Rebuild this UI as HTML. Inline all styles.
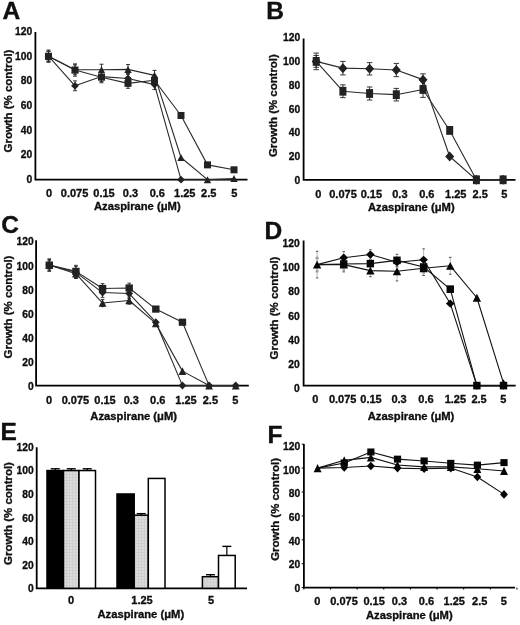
<!DOCTYPE html>
<html><head><meta charset="utf-8"><title>Azaspirane growth figure</title>
<style>
html,body{margin:0;padding:0;background:#fff;width:520px;height:625px;overflow:hidden;}
svg{display:block;will-change:transform;}
text{font-family:"Liberation Sans", sans-serif;}
</style></head><body>
<svg width="520" height="625" viewBox="0 0 520 625" font-family='"Liberation Sans", sans-serif' fill="#111">
<path d="M35.4 32V179.7H247.5" fill="none" stroke="#000" stroke-width="1.8" stroke-linejoin="miter"/>
<text x="32.3" y="182.7" font-size="10.3" text-anchor="end" font-weight="bold" stroke="#000" stroke-width="0.3">0</text>
<text x="32.3" y="158.12" font-size="10.3" text-anchor="end" font-weight="bold" stroke="#000" stroke-width="0.3">20</text>
<text x="32.3" y="133.54" font-size="10.3" text-anchor="end" font-weight="bold" stroke="#000" stroke-width="0.3">40</text>
<text x="32.3" y="108.96" font-size="10.3" text-anchor="end" font-weight="bold" stroke="#000" stroke-width="0.3">60</text>
<text x="32.3" y="84.38" font-size="10.3" text-anchor="end" font-weight="bold" stroke="#000" stroke-width="0.3">80</text>
<text x="32.3" y="59.8" font-size="10.3" text-anchor="end" font-weight="bold" stroke="#000" stroke-width="0.3">100</text>
<text x="32.3" y="35.22" font-size="10.3" text-anchor="end" font-weight="bold" stroke="#000" stroke-width="0.3">120</text>
<text x="49.1" y="197.4" font-size="11" text-anchor="middle" font-weight="bold" stroke="#000" stroke-width="0.3">0</text>
<text x="74.6" y="197.4" font-size="11" text-anchor="middle" font-weight="bold" stroke="#000" stroke-width="0.3">0.075</text>
<text x="104" y="197.4" font-size="11" text-anchor="middle" font-weight="bold" stroke="#000" stroke-width="0.3">0.15</text>
<text x="130.5" y="197.4" font-size="11" text-anchor="middle" font-weight="bold" stroke="#000" stroke-width="0.3">0.3</text>
<text x="157.3" y="197.4" font-size="11" text-anchor="middle" font-weight="bold" stroke="#000" stroke-width="0.3">0.6</text>
<text x="184.75" y="197.4" font-size="11" text-anchor="middle" font-weight="bold" stroke="#000" stroke-width="0.3">1.25</text>
<text x="208.75" y="197.4" font-size="11" text-anchor="middle" font-weight="bold" stroke="#000" stroke-width="0.3">2.5</text>
<text x="234.4" y="197.4" font-size="11" text-anchor="middle" font-weight="bold" stroke="#000" stroke-width="0.3">5</text>
<text x="0" y="0" font-size="10.6" text-anchor="middle" font-weight="bold" stroke="#000" stroke-width="0.3" transform="translate(137.3 210.2) scale(1.06 1)">Azaspirane (μM)</text>
<text x="0" y="0" font-size="10.4" text-anchor="middle" font-weight="bold" stroke="#000" stroke-width="0.3" transform="translate(12 101) rotate(-90) scale(1.1 1)">Growth (% control)</text>
<text x="2.6" y="19" font-size="24.5" text-anchor="start" font-weight="bold" stroke="#000" stroke-width="0.35">A</text>
<line x1="48.5" y1="51.26" x2="48.5" y2="61.14" stroke="#222" stroke-width="0.9"/>
<line x1="46.5" y1="51.26" x2="50.5" y2="51.26" stroke="#222" stroke-width="0.9"/>
<line x1="46.5" y1="61.14" x2="50.5" y2="61.14" stroke="#222" stroke-width="0.9"/>
<line x1="75" y1="80.9" x2="75" y2="90.78" stroke="#222" stroke-width="0.9"/>
<line x1="73" y1="80.9" x2="77" y2="80.9" stroke="#222" stroke-width="0.9"/>
<line x1="73" y1="90.78" x2="77" y2="90.78" stroke="#222" stroke-width="0.9"/>
<line x1="101.5" y1="71.64" x2="101.5" y2="81.52" stroke="#222" stroke-width="0.9"/>
<line x1="99.5" y1="71.64" x2="103.5" y2="71.64" stroke="#222" stroke-width="0.9"/>
<line x1="99.5" y1="81.52" x2="103.5" y2="81.52" stroke="#222" stroke-width="0.9"/>
<line x1="128" y1="73.49" x2="128" y2="83.37" stroke="#222" stroke-width="0.9"/>
<line x1="126" y1="73.49" x2="130" y2="73.49" stroke="#222" stroke-width="0.9"/>
<line x1="126" y1="83.37" x2="130" y2="83.37" stroke="#222" stroke-width="0.9"/>
<line x1="154.5" y1="79.66" x2="154.5" y2="89.54" stroke="#222" stroke-width="0.9"/>
<line x1="152.5" y1="79.66" x2="156.5" y2="79.66" stroke="#222" stroke-width="0.9"/>
<line x1="152.5" y1="89.54" x2="156.5" y2="89.54" stroke="#222" stroke-width="0.9"/>
<line x1="48.5" y1="51.26" x2="48.5" y2="61.14" stroke="#222" stroke-width="0.9"/>
<line x1="46.5" y1="51.26" x2="50.5" y2="51.26" stroke="#222" stroke-width="0.9"/>
<line x1="46.5" y1="61.14" x2="50.5" y2="61.14" stroke="#222" stroke-width="0.9"/>
<line x1="75" y1="64.84" x2="75" y2="74.72" stroke="#222" stroke-width="0.9"/>
<line x1="73" y1="64.84" x2="77" y2="64.84" stroke="#222" stroke-width="0.9"/>
<line x1="73" y1="74.72" x2="77" y2="74.72" stroke="#222" stroke-width="0.9"/>
<line x1="101.5" y1="64.23" x2="101.5" y2="75.34" stroke="#222" stroke-width="0.9"/>
<line x1="99.5" y1="64.23" x2="103.5" y2="64.23" stroke="#222" stroke-width="0.9"/>
<line x1="99.5" y1="75.34" x2="103.5" y2="75.34" stroke="#222" stroke-width="0.9"/>
<line x1="128" y1="64.47" x2="128" y2="74.35" stroke="#222" stroke-width="0.9"/>
<line x1="126" y1="64.47" x2="130" y2="64.47" stroke="#222" stroke-width="0.9"/>
<line x1="126" y1="74.35" x2="130" y2="74.35" stroke="#222" stroke-width="0.9"/>
<line x1="154.5" y1="70.4" x2="154.5" y2="80.28" stroke="#222" stroke-width="0.9"/>
<line x1="152.5" y1="70.4" x2="156.5" y2="70.4" stroke="#222" stroke-width="0.9"/>
<line x1="152.5" y1="80.28" x2="156.5" y2="80.28" stroke="#222" stroke-width="0.9"/>
<line x1="48.5" y1="50.02" x2="48.5" y2="62.37" stroke="#222" stroke-width="0.9"/>
<line x1="46.5" y1="50.02" x2="50.5" y2="50.02" stroke="#222" stroke-width="0.9"/>
<line x1="46.5" y1="62.37" x2="50.5" y2="62.37" stroke="#222" stroke-width="0.9"/>
<line x1="75" y1="63.86" x2="75" y2="76.21" stroke="#222" stroke-width="0.9"/>
<line x1="73" y1="63.86" x2="77" y2="63.86" stroke="#222" stroke-width="0.9"/>
<line x1="73" y1="76.21" x2="77" y2="76.21" stroke="#222" stroke-width="0.9"/>
<line x1="101.5" y1="71.64" x2="101.5" y2="82.75" stroke="#222" stroke-width="0.9"/>
<line x1="99.5" y1="71.64" x2="103.5" y2="71.64" stroke="#222" stroke-width="0.9"/>
<line x1="99.5" y1="82.75" x2="103.5" y2="82.75" stroke="#222" stroke-width="0.9"/>
<line x1="128" y1="78.43" x2="128" y2="88.31" stroke="#222" stroke-width="0.9"/>
<line x1="126" y1="78.43" x2="130" y2="78.43" stroke="#222" stroke-width="0.9"/>
<line x1="126" y1="88.31" x2="130" y2="88.31" stroke="#222" stroke-width="0.9"/>
<line x1="154.5" y1="75.34" x2="154.5" y2="85.22" stroke="#222" stroke-width="0.9"/>
<line x1="152.5" y1="75.34" x2="156.5" y2="75.34" stroke="#222" stroke-width="0.9"/>
<line x1="152.5" y1="85.22" x2="156.5" y2="85.22" stroke="#222" stroke-width="0.9"/>
<polyline points="48.5,56.2 75,85.84 101.5,76.58 128,78.43 154.5,84.6 181,179.7 207.5,179.7 234,179.7" fill="none" stroke="#2a2a2a" stroke-width="1.1" stroke-linejoin="round"/>
<polyline points="48.5,56.2 75,69.78 101.5,69.78 128,69.41 154.5,75.34 181,157.47 207.5,179.7 234,178.46" fill="none" stroke="#2a2a2a" stroke-width="1.1" stroke-linejoin="round"/>
<polyline points="48.5,56.2 75,70.03 101.5,77.19 128,83.37 154.5,80.28 181,115.48 207.5,164.88 234,169.82" fill="none" stroke="#2a2a2a" stroke-width="1.1" stroke-linejoin="round"/>
<polygon points="48.5,52.3 52.4,56.2 48.5,60.1 44.6,56.2" fill="#222"/>
<polygon points="75,81.94 78.9,85.84 75,89.74 71.1,85.84" fill="#222"/>
<polygon points="101.5,72.68 105.4,76.58 101.5,80.48 97.6,76.58" fill="#222"/>
<polygon points="128,74.53 131.9,78.43 128,82.33 124.1,78.43" fill="#222"/>
<polygon points="154.5,80.7 158.4,84.6 154.5,88.5 150.6,84.6" fill="#222"/>
<polygon points="181,175.8 184.9,179.7 181,183.6 177.1,179.7" fill="#222"/>
<polygon points="48.5,52.7 52.2,59.7 44.8,59.7" fill="#222"/>
<polygon points="75,66.28 78.7,73.28 71.3,73.28" fill="#222"/>
<polygon points="101.5,66.28 105.2,73.28 97.8,73.28" fill="#222"/>
<polygon points="128,65.91 131.7,72.91 124.3,72.91" fill="#222"/>
<polygon points="154.5,71.84 158.2,78.84 150.8,78.84" fill="#222"/>
<polygon points="181,153.97 184.7,160.97 177.3,160.97" fill="#222"/>
<polygon points="207.5,176.2 211.2,183.2 203.8,183.2" fill="#222"/>
<polygon points="234,174.96 237.7,181.96 230.3,181.96" fill="#222"/>
<rect x="45" y="52.7" width="7" height="7" fill="#222"/>
<rect x="71.5" y="66.53" width="7" height="7" fill="#222"/>
<rect x="98" y="73.69" width="7" height="7" fill="#222"/>
<rect x="124.5" y="79.87" width="7" height="7" fill="#222"/>
<rect x="151" y="76.78" width="7" height="7" fill="#222"/>
<rect x="177.5" y="111.98" width="7" height="7" fill="#222"/>
<rect x="204" y="161.38" width="7" height="7" fill="#222"/>
<rect x="230.5" y="166.32" width="7" height="7" fill="#222"/>
<path d="M303.6 38.4V179.8H515.5" fill="none" stroke="#000" stroke-width="1.8" stroke-linejoin="miter"/>
<text x="300.2" y="184" font-size="10.3" text-anchor="end" font-weight="bold" stroke="#000" stroke-width="0.3">0</text>
<text x="300.2" y="160.24" font-size="10.3" text-anchor="end" font-weight="bold" stroke="#000" stroke-width="0.3">20</text>
<text x="300.2" y="136.48" font-size="10.3" text-anchor="end" font-weight="bold" stroke="#000" stroke-width="0.3">40</text>
<text x="300.2" y="112.72" font-size="10.3" text-anchor="end" font-weight="bold" stroke="#000" stroke-width="0.3">60</text>
<text x="300.2" y="88.96" font-size="10.3" text-anchor="end" font-weight="bold" stroke="#000" stroke-width="0.3">80</text>
<text x="300.2" y="65.2" font-size="10.3" text-anchor="end" font-weight="bold" stroke="#000" stroke-width="0.3">100</text>
<text x="300.2" y="41.44" font-size="10.3" text-anchor="end" font-weight="bold" stroke="#000" stroke-width="0.3">120</text>
<text x="318.2" y="197.9" font-size="11" text-anchor="middle" font-weight="bold" stroke="#000" stroke-width="0.3">0</text>
<text x="343" y="197.9" font-size="11" text-anchor="middle" font-weight="bold" stroke="#000" stroke-width="0.3">0.075</text>
<text x="371.4" y="197.9" font-size="11" text-anchor="middle" font-weight="bold" stroke="#000" stroke-width="0.3">0.15</text>
<text x="399.9" y="197.9" font-size="11" text-anchor="middle" font-weight="bold" stroke="#000" stroke-width="0.3">0.3</text>
<text x="426.8" y="197.9" font-size="11" text-anchor="middle" font-weight="bold" stroke="#000" stroke-width="0.3">0.6</text>
<text x="455.8" y="197.9" font-size="11" text-anchor="middle" font-weight="bold" stroke="#000" stroke-width="0.3">1.25</text>
<text x="480.2" y="197.9" font-size="11" text-anchor="middle" font-weight="bold" stroke="#000" stroke-width="0.3">2.5</text>
<text x="504.3" y="197.9" font-size="11" text-anchor="middle" font-weight="bold" stroke="#000" stroke-width="0.3">5</text>
<text x="0" y="0" font-size="10.6" text-anchor="middle" font-weight="bold" stroke="#000" stroke-width="0.3" transform="translate(411.3 210.6) scale(1.06 1)">Azaspirane (μM)</text>
<text x="0" y="0" font-size="10.4" text-anchor="middle" font-weight="bold" stroke="#000" stroke-width="0.3" transform="translate(276.6 105.6) rotate(-90) scale(1.1 1)">Growth (% control)</text>
<text x="266.2" y="19.2" font-size="24.5" text-anchor="start" font-weight="bold" stroke="#000" stroke-width="0.35">B</text>
<line x1="316.2" y1="55.48" x2="316.2" y2="67.32" stroke="#222" stroke-width="0.9"/>
<line x1="313.45" y1="55.48" x2="318.95" y2="55.48" stroke="#222" stroke-width="0.9"/>
<line x1="313.45" y1="67.32" x2="318.95" y2="67.32" stroke="#222" stroke-width="0.9"/>
<line x1="342.9" y1="61.4" x2="342.9" y2="74.9" stroke="#222" stroke-width="0.9"/>
<line x1="340.15" y1="61.4" x2="345.65" y2="61.4" stroke="#222" stroke-width="0.9"/>
<line x1="340.15" y1="74.9" x2="345.65" y2="74.9" stroke="#222" stroke-width="0.9"/>
<line x1="369.6" y1="62.64" x2="369.6" y2="74.96" stroke="#222" stroke-width="0.9"/>
<line x1="366.85" y1="62.64" x2="372.35" y2="62.64" stroke="#222" stroke-width="0.9"/>
<line x1="366.85" y1="74.96" x2="372.35" y2="74.96" stroke="#222" stroke-width="0.9"/>
<line x1="396.3" y1="63.41" x2="396.3" y2="76.67" stroke="#222" stroke-width="0.9"/>
<line x1="393.55" y1="63.41" x2="399.05" y2="63.41" stroke="#222" stroke-width="0.9"/>
<line x1="393.55" y1="76.67" x2="399.05" y2="76.67" stroke="#222" stroke-width="0.9"/>
<line x1="423" y1="73.83" x2="423" y2="85.44" stroke="#222" stroke-width="0.9"/>
<line x1="420.25" y1="73.83" x2="425.75" y2="73.83" stroke="#222" stroke-width="0.9"/>
<line x1="420.25" y1="85.44" x2="425.75" y2="85.44" stroke="#222" stroke-width="0.9"/>
<line x1="316.2" y1="53.11" x2="316.2" y2="69.69" stroke="#222" stroke-width="0.9"/>
<line x1="313.45" y1="53.11" x2="318.95" y2="53.11" stroke="#222" stroke-width="0.9"/>
<line x1="313.45" y1="69.69" x2="318.95" y2="69.69" stroke="#222" stroke-width="0.9"/>
<line x1="342.9" y1="84.84" x2="342.9" y2="97.63" stroke="#222" stroke-width="0.9"/>
<line x1="340.15" y1="84.84" x2="345.65" y2="84.84" stroke="#222" stroke-width="0.9"/>
<line x1="340.15" y1="97.63" x2="345.65" y2="97.63" stroke="#222" stroke-width="0.9"/>
<line x1="369.6" y1="86.97" x2="369.6" y2="100" stroke="#222" stroke-width="0.9"/>
<line x1="366.85" y1="86.97" x2="372.35" y2="86.97" stroke="#222" stroke-width="0.9"/>
<line x1="366.85" y1="100" x2="372.35" y2="100" stroke="#222" stroke-width="0.9"/>
<line x1="396.3" y1="88.4" x2="396.3" y2="100.95" stroke="#222" stroke-width="0.9"/>
<line x1="393.55" y1="88.4" x2="399.05" y2="88.4" stroke="#222" stroke-width="0.9"/>
<line x1="393.55" y1="100.95" x2="399.05" y2="100.95" stroke="#222" stroke-width="0.9"/>
<line x1="423" y1="81.53" x2="423" y2="97.39" stroke="#222" stroke-width="0.9"/>
<line x1="420.25" y1="81.53" x2="425.75" y2="81.53" stroke="#222" stroke-width="0.9"/>
<line x1="420.25" y1="97.39" x2="425.75" y2="97.39" stroke="#222" stroke-width="0.9"/>
<polyline points="316.2,61.4 342.9,68.15 369.6,68.8 396.3,70.04 423,79.63 449.7,156.48 476.4,179.8 503.1,179.8" fill="none" stroke="#2a2a2a" stroke-width="1.1" stroke-linejoin="round"/>
<polyline points="316.2,61.4 342.9,91.24 369.6,93.49 396.3,94.67 423,89.46 449.7,130.43 476.4,179.8 503.1,179.8" fill="none" stroke="#2a2a2a" stroke-width="1.1" stroke-linejoin="round"/>
<polygon points="316.2,56.4 320.7,61.4 316.2,66.4 311.7,61.4" fill="#222"/>
<polygon points="342.9,63.15 347.4,68.15 342.9,73.15 338.4,68.15" fill="#222"/>
<polygon points="369.6,63.8 374.1,68.8 369.6,73.8 365.1,68.8" fill="#222"/>
<polygon points="396.3,65.04 400.8,70.04 396.3,75.04 391.8,70.04" fill="#222"/>
<polygon points="423,74.63 427.5,79.63 423,84.63 418.5,79.63" fill="#222"/>
<polygon points="449.7,151.48 454.2,156.48 449.7,161.48 445.2,156.48" fill="#222"/>
<polygon points="476.4,174.8 480.9,179.8 476.4,184.8 471.9,179.8" fill="#222"/>
<polygon points="503.1,174.8 507.6,179.8 503.1,184.8 498.6,179.8" fill="#222"/>
<rect x="312.7" y="57" width="7" height="8.8" fill="#222"/>
<rect x="339.4" y="86.84" width="7" height="8.8" fill="#222"/>
<rect x="366.1" y="89.09" width="7" height="8.8" fill="#222"/>
<rect x="392.8" y="90.27" width="7" height="8.8" fill="#222"/>
<rect x="419.5" y="85.06" width="7" height="8.8" fill="#222"/>
<rect x="446.2" y="126.03" width="7" height="8.8" fill="#222"/>
<rect x="472.9" y="175.4" width="7" height="8.8" fill="#222"/>
<rect x="499.6" y="175.4" width="7" height="8.8" fill="#222"/>
<path d="M36.1 240.3V385.6H248.8" fill="none" stroke="#000" stroke-width="1.8" stroke-linejoin="miter"/>
<text x="33.7" y="390" font-size="10.3" text-anchor="end" font-weight="bold" stroke="#000" stroke-width="0.3">0</text>
<text x="33.7" y="365.91" font-size="10.3" text-anchor="end" font-weight="bold" stroke="#000" stroke-width="0.3">20</text>
<text x="33.7" y="341.82" font-size="10.3" text-anchor="end" font-weight="bold" stroke="#000" stroke-width="0.3">40</text>
<text x="33.7" y="317.72" font-size="10.3" text-anchor="end" font-weight="bold" stroke="#000" stroke-width="0.3">60</text>
<text x="33.7" y="293.63" font-size="10.3" text-anchor="end" font-weight="bold" stroke="#000" stroke-width="0.3">80</text>
<text x="33.7" y="269.54" font-size="10.3" text-anchor="end" font-weight="bold" stroke="#000" stroke-width="0.3">100</text>
<text x="33.7" y="245.45" font-size="10.3" text-anchor="end" font-weight="bold" stroke="#000" stroke-width="0.3">120</text>
<text x="49.1" y="403.6" font-size="11" text-anchor="middle" font-weight="bold" stroke="#000" stroke-width="0.3">0</text>
<text x="75.4" y="403.6" font-size="11" text-anchor="middle" font-weight="bold" stroke="#000" stroke-width="0.3">0.075</text>
<text x="105" y="403.6" font-size="11" text-anchor="middle" font-weight="bold" stroke="#000" stroke-width="0.3">0.15</text>
<text x="131.3" y="403.6" font-size="11" text-anchor="middle" font-weight="bold" stroke="#000" stroke-width="0.3">0.3</text>
<text x="157.7" y="403.6" font-size="11" text-anchor="middle" font-weight="bold" stroke="#000" stroke-width="0.3">0.6</text>
<text x="186" y="403.6" font-size="11" text-anchor="middle" font-weight="bold" stroke="#000" stroke-width="0.3">1.25</text>
<text x="210.4" y="403.6" font-size="11" text-anchor="middle" font-weight="bold" stroke="#000" stroke-width="0.3">2.5</text>
<text x="235.25" y="403.6" font-size="11" text-anchor="middle" font-weight="bold" stroke="#000" stroke-width="0.3">5</text>
<text x="0" y="0" font-size="10.6" text-anchor="middle" font-weight="bold" stroke="#000" stroke-width="0.3" transform="translate(133.7 420) scale(1.06 1)">Azaspirane (μM)</text>
<text x="0" y="0" font-size="10.4" text-anchor="middle" font-weight="bold" stroke="#000" stroke-width="0.3" transform="translate(11.7 307) rotate(-90) scale(1.1 1)">Growth (% control)</text>
<text x="1.2" y="232.9" font-size="24.5" text-anchor="start" font-weight="bold" stroke="#000" stroke-width="0.35">C</text>
<line x1="49.3" y1="259.08" x2="49.3" y2="271.12" stroke="#222" stroke-width="0.9"/>
<line x1="47.5" y1="259.08" x2="51.1" y2="259.08" stroke="#222" stroke-width="0.9"/>
<line x1="47.5" y1="271.12" x2="51.1" y2="271.12" stroke="#222" stroke-width="0.9"/>
<line x1="75.93" y1="266.31" x2="75.93" y2="278.36" stroke="#222" stroke-width="0.9"/>
<line x1="74.13" y1="266.31" x2="77.73" y2="266.31" stroke="#222" stroke-width="0.9"/>
<line x1="74.13" y1="278.36" x2="77.73" y2="278.36" stroke="#222" stroke-width="0.9"/>
<line x1="102.56" y1="287.75" x2="102.56" y2="297.39" stroke="#222" stroke-width="0.9"/>
<line x1="100.76" y1="287.75" x2="104.36" y2="287.75" stroke="#222" stroke-width="0.9"/>
<line x1="100.76" y1="297.39" x2="104.36" y2="297.39" stroke="#222" stroke-width="0.9"/>
<line x1="129.19" y1="288.72" x2="129.19" y2="298.36" stroke="#222" stroke-width="0.9"/>
<line x1="127.39" y1="288.72" x2="130.99" y2="288.72" stroke="#222" stroke-width="0.9"/>
<line x1="127.39" y1="298.36" x2="130.99" y2="298.36" stroke="#222" stroke-width="0.9"/>
<line x1="49.3" y1="259.08" x2="49.3" y2="271.12" stroke="#222" stroke-width="0.9"/>
<line x1="47.5" y1="259.08" x2="51.1" y2="259.08" stroke="#222" stroke-width="0.9"/>
<line x1="47.5" y1="271.12" x2="51.1" y2="271.12" stroke="#222" stroke-width="0.9"/>
<line x1="75.93" y1="265.34" x2="75.93" y2="277.39" stroke="#222" stroke-width="0.9"/>
<line x1="74.13" y1="265.34" x2="77.73" y2="265.34" stroke="#222" stroke-width="0.9"/>
<line x1="74.13" y1="277.39" x2="77.73" y2="277.39" stroke="#222" stroke-width="0.9"/>
<line x1="102.56" y1="283.66" x2="102.56" y2="293.3" stroke="#222" stroke-width="0.9"/>
<line x1="100.76" y1="283.66" x2="104.36" y2="283.66" stroke="#222" stroke-width="0.9"/>
<line x1="100.76" y1="293.3" x2="104.36" y2="293.3" stroke="#222" stroke-width="0.9"/>
<line x1="129.19" y1="283.18" x2="129.19" y2="292.81" stroke="#222" stroke-width="0.9"/>
<line x1="127.39" y1="283.18" x2="130.99" y2="283.18" stroke="#222" stroke-width="0.9"/>
<line x1="127.39" y1="292.81" x2="130.99" y2="292.81" stroke="#222" stroke-width="0.9"/>
<line x1="49.3" y1="260.28" x2="49.3" y2="269.92" stroke="#222" stroke-width="0.9"/>
<line x1="47.5" y1="260.28" x2="51.1" y2="260.28" stroke="#222" stroke-width="0.9"/>
<line x1="47.5" y1="269.92" x2="51.1" y2="269.92" stroke="#222" stroke-width="0.9"/>
<line x1="75.93" y1="268.84" x2="75.93" y2="278.48" stroke="#222" stroke-width="0.9"/>
<line x1="74.13" y1="268.84" x2="77.73" y2="268.84" stroke="#222" stroke-width="0.9"/>
<line x1="74.13" y1="278.48" x2="77.73" y2="278.48" stroke="#222" stroke-width="0.9"/>
<line x1="102.56" y1="299.44" x2="102.56" y2="306.67" stroke="#222" stroke-width="0.9"/>
<line x1="100.76" y1="299.44" x2="104.36" y2="299.44" stroke="#222" stroke-width="0.9"/>
<line x1="100.76" y1="306.67" x2="104.36" y2="306.67" stroke="#222" stroke-width="0.9"/>
<line x1="129.19" y1="296.91" x2="129.19" y2="304.14" stroke="#222" stroke-width="0.9"/>
<line x1="127.39" y1="296.91" x2="130.99" y2="296.91" stroke="#222" stroke-width="0.9"/>
<line x1="127.39" y1="304.14" x2="130.99" y2="304.14" stroke="#222" stroke-width="0.9"/>
<polyline points="49.3,265.1 75.93,272.33 102.56,292.57 129.19,293.54 155.82,322.22 182.45,385.6 209.08,385.6 235.71,385.6" fill="none" stroke="#2a2a2a" stroke-width="1.1" stroke-linejoin="round"/>
<polyline points="49.3,265.1 75.93,271.37 102.56,288.48 129.19,288 155.82,309.08 182.45,322.22 209.08,385.6 235.71,385.6" fill="none" stroke="#2a2a2a" stroke-width="1.1" stroke-linejoin="round"/>
<polyline points="49.3,265.1 75.93,273.66 102.56,303.06 129.19,300.53 155.82,323.42 182.45,371.14 209.08,385.6 235.71,385.6" fill="none" stroke="#2a2a2a" stroke-width="1.1" stroke-linejoin="round"/>
<polygon points="49.3,261.1 53.2,265.1 49.3,269.1 45.4,265.1" fill="#222"/>
<polygon points="75.93,268.33 79.83,272.33 75.93,276.33 72.03,272.33" fill="#222"/>
<polygon points="102.56,288.57 106.46,292.57 102.56,296.57 98.66,292.57" fill="#222"/>
<polygon points="129.19,289.54 133.09,293.54 129.19,297.54 125.29,293.54" fill="#222"/>
<polygon points="155.82,318.22 159.72,322.22 155.82,326.22 151.92,322.22" fill="#222"/>
<polygon points="182.45,381.6 186.35,385.6 182.45,389.6 178.55,385.6" fill="#222"/>
<polygon points="209.08,381.6 212.98,385.6 209.08,389.6 205.18,385.6" fill="#222"/>
<polygon points="235.71,381.6 239.61,385.6 235.71,389.6 231.81,385.6" fill="#222"/>
<rect x="45.6" y="261.5" width="7.4" height="7.2" fill="#222"/>
<rect x="72.23" y="267.77" width="7.4" height="7.2" fill="#222"/>
<rect x="98.86" y="284.88" width="7.4" height="7.2" fill="#222"/>
<rect x="125.49" y="284.39" width="7.4" height="7.2" fill="#222"/>
<rect x="152.12" y="305.48" width="7.4" height="7.2" fill="#222"/>
<rect x="178.75" y="318.62" width="7.4" height="7.2" fill="#222"/>
<polygon points="49.3,261.3 53.2,268.9 45.4,268.9" fill="#222"/>
<polygon points="75.93,269.86 79.83,277.46 72.03,277.46" fill="#222"/>
<polygon points="102.56,299.26 106.46,306.86 98.66,306.86" fill="#222"/>
<polygon points="129.19,296.73 133.09,304.33 125.29,304.33" fill="#222"/>
<polygon points="155.82,319.62 159.72,327.22 151.92,327.22" fill="#222"/>
<polygon points="182.45,367.34 186.35,374.94 178.55,374.94" fill="#222"/>
<polygon points="209.08,381.8 212.98,389.4 205.18,389.4" fill="#222"/>
<polygon points="235.71,381.8 239.61,389.4 231.81,389.4" fill="#222"/>
<path d="M303.6 240.4V385.6H515.7" fill="none" stroke="#000" stroke-width="1.8" stroke-linejoin="miter"/>
<text x="299.7" y="392.1" font-size="10.3" text-anchor="end" font-weight="bold" stroke="#000" stroke-width="0.3">0</text>
<text x="299.7" y="367.94" font-size="10.3" text-anchor="end" font-weight="bold" stroke="#000" stroke-width="0.3">20</text>
<text x="299.7" y="343.78" font-size="10.3" text-anchor="end" font-weight="bold" stroke="#000" stroke-width="0.3">40</text>
<text x="299.7" y="319.62" font-size="10.3" text-anchor="end" font-weight="bold" stroke="#000" stroke-width="0.3">60</text>
<text x="299.7" y="295.46" font-size="10.3" text-anchor="end" font-weight="bold" stroke="#000" stroke-width="0.3">80</text>
<text x="299.7" y="271.3" font-size="10.3" text-anchor="end" font-weight="bold" stroke="#000" stroke-width="0.3">100</text>
<text x="299.7" y="247.14" font-size="10.3" text-anchor="end" font-weight="bold" stroke="#000" stroke-width="0.3">120</text>
<text x="315.25" y="402.6" font-size="11" text-anchor="middle" font-weight="bold" stroke="#000" stroke-width="0.3">0</text>
<text x="342.7" y="402.6" font-size="11" text-anchor="middle" font-weight="bold" stroke="#000" stroke-width="0.3">0.075</text>
<text x="371" y="402.6" font-size="11" text-anchor="middle" font-weight="bold" stroke="#000" stroke-width="0.3">0.15</text>
<text x="399.1" y="402.6" font-size="11" text-anchor="middle" font-weight="bold" stroke="#000" stroke-width="0.3">0.3</text>
<text x="426" y="402.6" font-size="11" text-anchor="middle" font-weight="bold" stroke="#000" stroke-width="0.3">0.6</text>
<text x="455.4" y="402.6" font-size="11" text-anchor="middle" font-weight="bold" stroke="#000" stroke-width="0.3">1.25</text>
<text x="479.1" y="402.6" font-size="11" text-anchor="middle" font-weight="bold" stroke="#000" stroke-width="0.3">2.5</text>
<text x="503.4" y="402.6" font-size="11" text-anchor="middle" font-weight="bold" stroke="#000" stroke-width="0.3">5</text>
<text x="0" y="0" font-size="10.6" text-anchor="middle" font-weight="bold" stroke="#000" stroke-width="0.3" transform="translate(411 420.3) scale(1.06 1)">Azaspirane (μM)</text>
<text x="0" y="0" font-size="10.4" text-anchor="middle" font-weight="bold" stroke="#000" stroke-width="0.3" transform="translate(277.8 308) rotate(-90) scale(1.1 1)">Growth (% control)</text>
<text x="264.6" y="239.4" font-size="24.5" text-anchor="start" font-weight="bold" stroke="#000" stroke-width="0.35">D</text>
<line x1="317.1" y1="258.55" x2="317.1" y2="270.65" stroke="#b8b8b8" stroke-width="1"/>
<line x1="315.8" y1="258.55" x2="318.4" y2="258.55" stroke="#555" stroke-width="1"/>
<line x1="315.8" y1="270.65" x2="318.4" y2="270.65" stroke="#555" stroke-width="1"/>
<line x1="343.73" y1="251.65" x2="343.73" y2="263.75" stroke="#b8b8b8" stroke-width="1"/>
<line x1="342.43" y1="251.65" x2="345.03" y2="251.65" stroke="#555" stroke-width="1"/>
<line x1="342.43" y1="263.75" x2="345.03" y2="263.75" stroke="#555" stroke-width="1"/>
<line x1="370.36" y1="249.72" x2="370.36" y2="259.4" stroke="#b8b8b8" stroke-width="1"/>
<line x1="369.06" y1="249.72" x2="371.66" y2="249.72" stroke="#555" stroke-width="1"/>
<line x1="369.06" y1="259.4" x2="371.66" y2="259.4" stroke="#555" stroke-width="1"/>
<line x1="396.99" y1="257.34" x2="396.99" y2="267.02" stroke="#b8b8b8" stroke-width="1"/>
<line x1="395.69" y1="257.34" x2="398.29" y2="257.34" stroke="#555" stroke-width="1"/>
<line x1="395.69" y1="267.02" x2="398.29" y2="267.02" stroke="#555" stroke-width="1"/>
<line x1="423.62" y1="248.87" x2="423.62" y2="270.65" stroke="#b8b8b8" stroke-width="1"/>
<line x1="422.32" y1="248.87" x2="424.92" y2="248.87" stroke="#555" stroke-width="1"/>
<line x1="422.32" y1="270.65" x2="424.92" y2="270.65" stroke="#555" stroke-width="1"/>
<line x1="317.1" y1="257.34" x2="317.1" y2="271.86" stroke="#b8b8b8" stroke-width="1"/>
<line x1="315.8" y1="257.34" x2="318.4" y2="257.34" stroke="#555" stroke-width="1"/>
<line x1="315.8" y1="271.86" x2="318.4" y2="271.86" stroke="#555" stroke-width="1"/>
<line x1="343.73" y1="257.95" x2="343.73" y2="270.05" stroke="#b8b8b8" stroke-width="1"/>
<line x1="342.43" y1="257.95" x2="345.03" y2="257.95" stroke="#555" stroke-width="1"/>
<line x1="342.43" y1="270.05" x2="345.03" y2="270.05" stroke="#555" stroke-width="1"/>
<line x1="370.36" y1="257.58" x2="370.36" y2="269.68" stroke="#b8b8b8" stroke-width="1"/>
<line x1="369.06" y1="257.58" x2="371.66" y2="257.58" stroke="#555" stroke-width="1"/>
<line x1="369.06" y1="269.68" x2="371.66" y2="269.68" stroke="#555" stroke-width="1"/>
<line x1="396.99" y1="254.32" x2="396.99" y2="266.42" stroke="#b8b8b8" stroke-width="1"/>
<line x1="395.69" y1="254.32" x2="398.29" y2="254.32" stroke="#555" stroke-width="1"/>
<line x1="395.69" y1="266.42" x2="398.29" y2="266.42" stroke="#555" stroke-width="1"/>
<line x1="423.62" y1="260.97" x2="423.62" y2="273.07" stroke="#b8b8b8" stroke-width="1"/>
<line x1="422.32" y1="260.97" x2="424.92" y2="260.97" stroke="#555" stroke-width="1"/>
<line x1="422.32" y1="273.07" x2="424.92" y2="273.07" stroke="#555" stroke-width="1"/>
<line x1="317.1" y1="251.29" x2="317.1" y2="277.91" stroke="#b8b8b8" stroke-width="1"/>
<line x1="315.8" y1="251.29" x2="318.4" y2="251.29" stroke="#555" stroke-width="1"/>
<line x1="315.8" y1="277.91" x2="318.4" y2="277.91" stroke="#555" stroke-width="1"/>
<line x1="343.73" y1="257.34" x2="343.73" y2="271.86" stroke="#b8b8b8" stroke-width="1"/>
<line x1="342.43" y1="257.34" x2="345.03" y2="257.34" stroke="#555" stroke-width="1"/>
<line x1="342.43" y1="271.86" x2="345.03" y2="271.86" stroke="#555" stroke-width="1"/>
<line x1="370.36" y1="264.6" x2="370.36" y2="276.7" stroke="#b8b8b8" stroke-width="1"/>
<line x1="369.06" y1="264.6" x2="371.66" y2="264.6" stroke="#555" stroke-width="1"/>
<line x1="369.06" y1="276.7" x2="371.66" y2="276.7" stroke="#555" stroke-width="1"/>
<line x1="396.99" y1="261.58" x2="396.99" y2="280.94" stroke="#b8b8b8" stroke-width="1"/>
<line x1="395.69" y1="261.58" x2="398.29" y2="261.58" stroke="#555" stroke-width="1"/>
<line x1="395.69" y1="280.94" x2="398.29" y2="280.94" stroke="#555" stroke-width="1"/>
<line x1="423.62" y1="260.97" x2="423.62" y2="275.49" stroke="#b8b8b8" stroke-width="1"/>
<line x1="422.32" y1="260.97" x2="424.92" y2="260.97" stroke="#555" stroke-width="1"/>
<line x1="422.32" y1="275.49" x2="424.92" y2="275.49" stroke="#555" stroke-width="1"/>
<line x1="450.25" y1="257.34" x2="450.25" y2="274.28" stroke="#b8b8b8" stroke-width="1"/>
<line x1="448.95" y1="257.34" x2="451.55" y2="257.34" stroke="#555" stroke-width="1"/>
<line x1="448.95" y1="274.28" x2="451.55" y2="274.28" stroke="#555" stroke-width="1"/>
<polyline points="317.1,264.6 343.73,257.7 370.36,254.56 396.99,262.18 423.62,259.76 450.25,303.56 476.88,385.6 503.51,385.6" fill="none" stroke="#111" stroke-width="1.1" stroke-linejoin="round"/>
<polyline points="317.1,264.6 343.73,264 370.36,263.63 396.99,260.37 423.62,267.02 450.25,289.16 476.88,385.6 503.51,385.6" fill="none" stroke="#111" stroke-width="1.1" stroke-linejoin="round"/>
<polyline points="317.1,264.6 343.73,264.6 370.36,270.65 396.99,271.25 423.62,268.23 450.25,265.81 476.88,297.75 503.51,383.18" fill="none" stroke="#111" stroke-width="1.1" stroke-linejoin="round"/>
<polygon points="343.73,253.6 348.03,257.7 343.73,261.8 339.43,257.7" fill="#060606"/>
<polygon points="370.36,250.46 374.66,254.56 370.36,258.66 366.06,254.56" fill="#060606"/>
<polygon points="396.99,258.08 401.29,262.18 396.99,266.28 392.69,262.18" fill="#060606"/>
<polygon points="423.62,255.66 427.92,259.76 423.62,263.86 419.32,259.76" fill="#060606"/>
<polygon points="450.25,299.46 454.55,303.56 450.25,307.66 445.95,303.56" fill="#060606"/>
<polygon points="476.88,381.5 481.18,385.6 476.88,389.7 472.58,385.6" fill="#060606"/>
<polygon points="503.51,381.5 507.81,385.6 503.51,389.7 499.21,385.6" fill="#060606"/>
<rect x="340.03" y="260.19" width="7.4" height="7.6" fill="#060606"/>
<rect x="366.66" y="259.83" width="7.4" height="7.6" fill="#060606"/>
<rect x="393.29" y="256.56" width="7.4" height="7.6" fill="#060606"/>
<rect x="419.92" y="263.22" width="7.4" height="7.6" fill="#060606"/>
<rect x="446.55" y="285.36" width="7.4" height="7.6" fill="#060606"/>
<rect x="473.18" y="381.8" width="7.4" height="7.6" fill="#060606"/>
<rect x="499.81" y="381.8" width="7.4" height="7.6" fill="#060606"/>
<polygon points="317.1,260.7 321.3,268.5 312.9,268.5" fill="#060606"/>
<polygon points="343.73,260.7 347.93,268.5 339.53,268.5" fill="#060606"/>
<polygon points="370.36,266.75 374.56,274.55 366.16,274.55" fill="#060606"/>
<polygon points="396.99,267.36 401.19,275.15 392.79,275.15" fill="#060606"/>
<polygon points="423.62,264.33 427.82,272.13 419.42,272.13" fill="#060606"/>
<polygon points="450.25,261.91 454.45,269.71 446.05,269.71" fill="#060606"/>
<polygon points="476.88,293.85 481.08,301.65 472.68,301.65" fill="#060606"/>
<polygon points="503.51,379.28 507.71,387.08 499.31,387.08" fill="#060606"/>
<path d="M36.7 447.3V588.3H247" fill="none" stroke="#000" stroke-width="1.8" stroke-linejoin="miter"/>
<text x="33.8" y="592.3" font-size="10.3" text-anchor="end" font-weight="bold" stroke="#000" stroke-width="0.3">0</text>
<text x="33.8" y="568.7" font-size="10.3" text-anchor="end" font-weight="bold" stroke="#000" stroke-width="0.3">20</text>
<text x="33.8" y="545.1" font-size="10.3" text-anchor="end" font-weight="bold" stroke="#000" stroke-width="0.3">40</text>
<text x="33.8" y="521.5" font-size="10.3" text-anchor="end" font-weight="bold" stroke="#000" stroke-width="0.3">60</text>
<text x="33.8" y="497.9" font-size="10.3" text-anchor="end" font-weight="bold" stroke="#000" stroke-width="0.3">80</text>
<text x="33.8" y="474.3" font-size="10.3" text-anchor="end" font-weight="bold" stroke="#000" stroke-width="0.3">100</text>
<text x="33.8" y="450.7" font-size="10.3" text-anchor="end" font-weight="bold" stroke="#000" stroke-width="0.3">120</text>
<text x="0" y="0" font-size="10.6" text-anchor="middle" font-weight="bold" stroke="#000" stroke-width="0.3" transform="translate(140.8 618.4) scale(1.06 1)">Azaspirane (μM)</text>
<text x="0" y="0" font-size="10.4" text-anchor="middle" font-weight="bold" stroke="#000" stroke-width="0.3" transform="translate(11.7 513.5) rotate(-90) scale(1.1 1)">Growth (% control)</text>
<text x="0.5" y="440" font-size="24.5" text-anchor="start" font-weight="bold" stroke="#000" stroke-width="0.35">E</text>
<text x="71" y="604.2" font-size="11" text-anchor="middle" font-weight="bold" stroke="#000" stroke-width="0.3">0</text>
<text x="142" y="604.2" font-size="11" text-anchor="middle" font-weight="bold" stroke="#000" stroke-width="0.3">1.25</text>
<text x="211" y="604.2" font-size="11" text-anchor="middle" font-weight="bold" stroke="#000" stroke-width="0.3">5</text>
<defs><pattern id="dots" width="3" height="3" patternUnits="userSpaceOnUse"><rect width="3" height="3" fill="#dcdcdc"/><rect width="1" height="3" fill="#cfcfcf"/><rect width="3" height="1" fill="#cfcfcf"/></pattern></defs>
<line x1="55.25" y1="468.78" x2="55.25" y2="470.55" stroke="#000" stroke-width="1.2"/>
<line x1="50.75" y1="468.78" x2="59.75" y2="468.78" stroke="#000" stroke-width="1.4"/>
<rect x="47" y="470.55" width="16.5" height="117.75" fill="#000" stroke="#000" stroke-width="1.5"/>
<line x1="71.25" y1="468.78" x2="71.25" y2="470.55" stroke="#000" stroke-width="1.2"/>
<line x1="66.75" y1="468.78" x2="75.75" y2="468.78" stroke="#000" stroke-width="1.4"/>
<rect x="63.5" y="470.55" width="15.5" height="117.75" fill="url(#dots)" stroke="#000" stroke-width="1.5"/>
<line x1="87.25" y1="468.78" x2="87.25" y2="470.55" stroke="#000" stroke-width="1.2"/>
<line x1="82.75" y1="468.78" x2="91.75" y2="468.78" stroke="#000" stroke-width="1.4"/>
<rect x="79" y="470.55" width="16.5" height="117.75" fill="#fff" stroke="#000" stroke-width="1.5"/>
<rect x="117" y="493.98" width="17.2" height="94.32" fill="#000" stroke="#000" stroke-width="1.5"/>
<line x1="141.25" y1="513.65" x2="141.25" y2="515.18" stroke="#000" stroke-width="1.2"/>
<line x1="136.75" y1="513.65" x2="145.75" y2="513.65" stroke="#000" stroke-width="1.4"/>
<rect x="134.2" y="515.18" width="14.1" height="73.12" fill="url(#dots)" stroke="#000" stroke-width="1.5"/>
<rect x="148.3" y="478.44" width="16.7" height="109.86" fill="#fff" stroke="#000" stroke-width="1.5"/>
<line x1="210.45" y1="574.7" x2="210.45" y2="576.7" stroke="#000" stroke-width="1.2"/>
<line x1="205.95" y1="574.7" x2="214.95" y2="574.7" stroke="#000" stroke-width="1.4"/>
<rect x="202.4" y="576.7" width="16.1" height="11.6" fill="url(#dots)" stroke="#000" stroke-width="1.5"/>
<line x1="226.85" y1="546.38" x2="226.85" y2="555.45" stroke="#000" stroke-width="1.2"/>
<line x1="222.35" y1="546.38" x2="231.35" y2="546.38" stroke="#000" stroke-width="1.4"/>
<rect x="218.5" y="555.45" width="16.7" height="32.85" fill="#fff" stroke="#000" stroke-width="1.5"/>
<line x1="301.7" y1="587.6" x2="303.9" y2="587.6" stroke="#000" stroke-width="1"/>
<line x1="301.7" y1="563.7" x2="303.9" y2="563.7" stroke="#000" stroke-width="1"/>
<line x1="301.7" y1="539.8" x2="303.9" y2="539.8" stroke="#000" stroke-width="1"/>
<line x1="301.7" y1="515.9" x2="303.9" y2="515.9" stroke="#000" stroke-width="1"/>
<line x1="301.7" y1="492" x2="303.9" y2="492" stroke="#000" stroke-width="1"/>
<line x1="301.7" y1="468.1" x2="303.9" y2="468.1" stroke="#000" stroke-width="1"/>
<line x1="301.7" y1="444.2" x2="303.9" y2="444.2" stroke="#000" stroke-width="1"/>
<line x1="303.9" y1="587.6" x2="303.9" y2="589.6" stroke="#000" stroke-width="1"/>
<line x1="330.53" y1="587.6" x2="330.53" y2="589.6" stroke="#000" stroke-width="1"/>
<line x1="357.16" y1="587.6" x2="357.16" y2="589.6" stroke="#000" stroke-width="1"/>
<line x1="383.79" y1="587.6" x2="383.79" y2="589.6" stroke="#000" stroke-width="1"/>
<line x1="410.42" y1="587.6" x2="410.42" y2="589.6" stroke="#000" stroke-width="1"/>
<line x1="437.05" y1="587.6" x2="437.05" y2="589.6" stroke="#000" stroke-width="1"/>
<line x1="463.68" y1="587.6" x2="463.68" y2="589.6" stroke="#000" stroke-width="1"/>
<line x1="490.31" y1="587.6" x2="490.31" y2="589.6" stroke="#000" stroke-width="1"/>
<line x1="516.94" y1="587.6" x2="516.94" y2="589.6" stroke="#000" stroke-width="1"/>
<path d="M303.9 444V587.6H515" fill="none" stroke="#000" stroke-width="1.8" stroke-linejoin="miter"/>
<text x="300.3" y="591.7" font-size="10.3" text-anchor="end" font-weight="bold" stroke="#000" stroke-width="0.3">0</text>
<text x="300.3" y="568.14" font-size="10.3" text-anchor="end" font-weight="bold" stroke="#000" stroke-width="0.3">20</text>
<text x="300.3" y="544.58" font-size="10.3" text-anchor="end" font-weight="bold" stroke="#000" stroke-width="0.3">40</text>
<text x="300.3" y="521.02" font-size="10.3" text-anchor="end" font-weight="bold" stroke="#000" stroke-width="0.3">60</text>
<text x="300.3" y="497.46" font-size="10.3" text-anchor="end" font-weight="bold" stroke="#000" stroke-width="0.3">80</text>
<text x="300.3" y="473.9" font-size="10.3" text-anchor="end" font-weight="bold" stroke="#000" stroke-width="0.3">100</text>
<text x="300.3" y="450.34" font-size="10.3" text-anchor="end" font-weight="bold" stroke="#000" stroke-width="0.3">120</text>
<text x="317.25" y="605.3" font-size="11" text-anchor="middle" font-weight="bold" stroke="#000" stroke-width="0.3">0</text>
<text x="344" y="605.3" font-size="11" text-anchor="middle" font-weight="bold" stroke="#000" stroke-width="0.3">0.075</text>
<text x="374.1" y="605.3" font-size="11" text-anchor="middle" font-weight="bold" stroke="#000" stroke-width="0.3">0.15</text>
<text x="399.5" y="605.3" font-size="11" text-anchor="middle" font-weight="bold" stroke="#000" stroke-width="0.3">0.3</text>
<text x="426.5" y="605.3" font-size="11" text-anchor="middle" font-weight="bold" stroke="#000" stroke-width="0.3">0.6</text>
<text x="454.3" y="605.3" font-size="11" text-anchor="middle" font-weight="bold" stroke="#000" stroke-width="0.3">1.25</text>
<text x="479.7" y="605.3" font-size="11" text-anchor="middle" font-weight="bold" stroke="#000" stroke-width="0.3">2.5</text>
<text x="503.9" y="605.3" font-size="11" text-anchor="middle" font-weight="bold" stroke="#000" stroke-width="0.3">5</text>
<text x="0" y="0" font-size="10.6" text-anchor="middle" font-weight="bold" stroke="#000" stroke-width="0.3" transform="translate(409.3 618.5) scale(1.06 1)">Azaspirane (μM)</text>
<text x="0" y="0" font-size="10.4" text-anchor="middle" font-weight="bold" stroke="#000" stroke-width="0.3" transform="translate(278.6 509.4) rotate(-90) scale(1.1 1)">Growth (% control)</text>
<text x="267.6" y="442.6" font-size="24.5" text-anchor="start" font-weight="bold" stroke="#000" stroke-width="0.35">F</text>
<polyline points="317.6,468.1 344.23,467.5 370.86,465.95 397.49,468.1 424.12,468.7 450.75,468.1 477.38,476.94 504.01,494.39" fill="none" stroke="#111" stroke-width="1.1" stroke-linejoin="round"/>
<polyline points="317.6,468.1 344.23,462.96 370.86,451.97 397.49,459.14 424.12,460.93 450.75,463.32 477.38,465.11 504.01,462.6" fill="none" stroke="#111" stroke-width="1.1" stroke-linejoin="round"/>
<polyline points="317.6,468.1 344.23,460.33 370.86,457.35 397.49,464.99 424.12,466.91 450.75,466.91 477.38,468.82 504.01,470.97" fill="none" stroke="#111" stroke-width="1.1" stroke-linejoin="round"/>
<polygon points="344.23,463.2 348.18,467.5 344.23,471.8 340.28,467.5" fill="#060606"/>
<polygon points="370.86,461.65 374.81,465.95 370.86,470.25 366.91,465.95" fill="#060606"/>
<polygon points="397.49,463.8 401.44,468.1 397.49,472.4 393.54,468.1" fill="#060606"/>
<polygon points="424.12,464.4 428.07,468.7 424.12,473 420.17,468.7" fill="#060606"/>
<polygon points="450.75,463.8 454.7,468.1 450.75,472.4 446.8,468.1" fill="#060606"/>
<polygon points="477.38,472.64 481.33,476.94 477.38,481.24 473.43,476.94" fill="#060606"/>
<polygon points="504.01,490.09 507.96,494.39 504.01,498.69 500.06,494.39" fill="#060606"/>
<rect x="340.63" y="459.46" width="7.2" height="7" fill="#060606"/>
<rect x="367.26" y="448.47" width="7.2" height="7" fill="#060606"/>
<rect x="393.89" y="455.64" width="7.2" height="7" fill="#060606"/>
<rect x="420.52" y="457.43" width="7.2" height="7" fill="#060606"/>
<rect x="447.15" y="459.82" width="7.2" height="7" fill="#060606"/>
<rect x="473.78" y="461.61" width="7.2" height="7" fill="#060606"/>
<rect x="500.41" y="459.1" width="7.2" height="7" fill="#060606"/>
<polygon points="317.6,464 321.55,472.2 313.65,472.2" fill="#060606"/>
<polygon points="344.23,456.23 348.18,464.43 340.28,464.43" fill="#060606"/>
<polygon points="370.86,453.25 374.81,461.45 366.91,461.45" fill="#060606"/>
<polygon points="397.49,460.89 401.44,469.09 393.54,469.09" fill="#060606"/>
<polygon points="424.12,462.81 428.07,471.01 420.17,471.01" fill="#060606"/>
<polygon points="450.75,462.81 454.7,471.01 446.8,471.01" fill="#060606"/>
<polygon points="477.38,464.72 481.33,472.92 473.43,472.92" fill="#060606"/>
<polygon points="504.01,466.87 507.96,475.07 500.06,475.07" fill="#060606"/>
</svg>
</body></html>
